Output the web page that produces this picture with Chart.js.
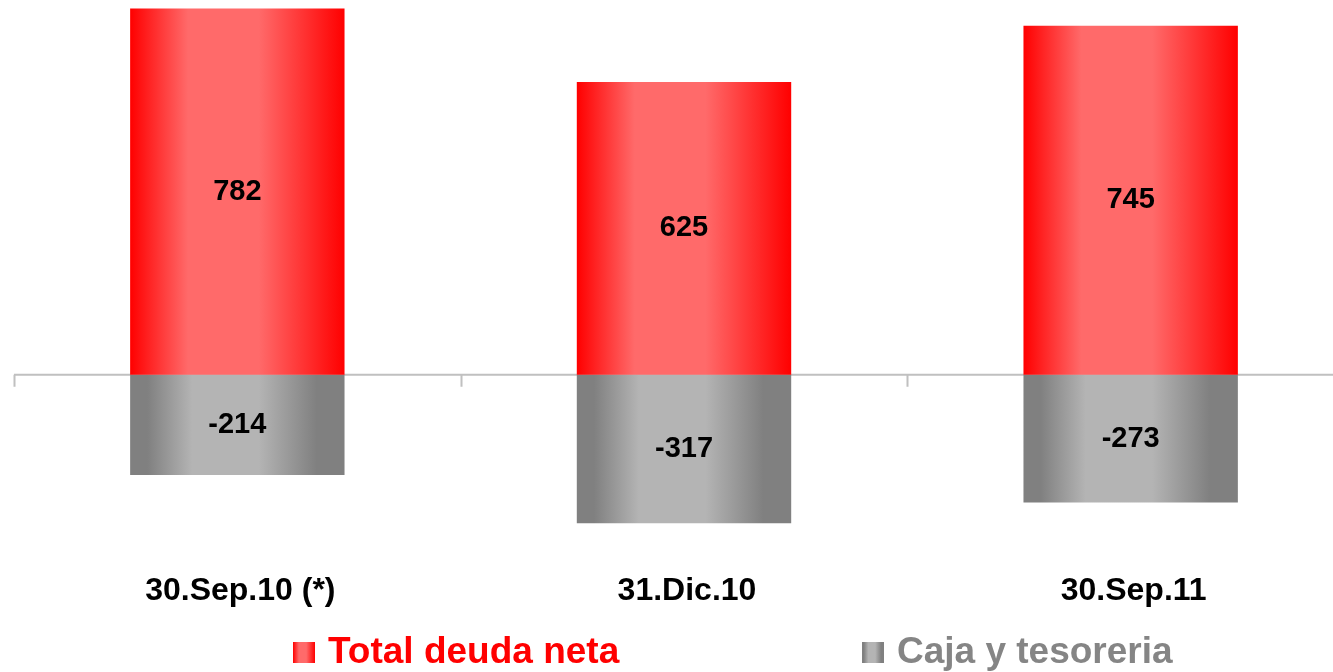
<!DOCTYPE html>
<html>
<head>
<meta charset="utf-8">
<script src="https://cdn.jsdelivr.net/npm/chart.js@4.4.1/dist/chart.umd.min.js"></script>
<style>
    html, body { margin: 0; padding: 0; background: #fff; overflow: hidden; }
    #wrap { width: 1360px; height: 672px; position: relative; }
</style>
</head>
<body>
<div id="wrap"><canvas id="chart"></canvas></div>
<script>
// Data
const categories = ["30.Sep.10 (*)", "31.Dic.10", "30.Sep.11"];
const deudaNeta = [782, 625, 745];
const cajaTesoreria = [-214, -317, -273];
const seriesNames = ["Total deuda neta", "Caja y tesoreria"];

const FONT = "'Liberation Sans', Arial, sans-serif";

// Horizontal gradient across a bar
const barGradient = (ctx, x0, x1, dark, light, stops) => {
    const g = ctx.createLinearGradient(x0, 0, x1, 0);
    stops.forEach(([pos, isLight]) => g.addColorStop(pos, isLight ? light : dark));
    return g;
};

const RED = { dark: "#ff0000", light: "#ff6a6a", stops: [[0, 0], [0.27, 1], [0.6, 1], [1, 0]] };
const GRAY = { dark: "#808080", light: "#b4b4b4", stops: [[0, 0], [0.08, 0], [0.29, 1], [0.6, 1], [0.87, 0], [1, 0]] };

const gradientFor = (c) => (context) => {
    const chart = context.chart;
    if (!chart.chartArea || context.dataIndex === undefined) return c.dark;
    const x = chart.scales.x;
    const w = x.width / categories.length * 0.48;
    const cx = x.getPixelForValue(context.dataIndex);
    return barGradient(chart.ctx, cx - w / 2, cx + w / 2, c.dark, c.light, c.stops);
};

// Zero line with category tick marks
const zeroAxis = {
    id: "zeroAxis",
    beforeDatasetsDraw(chart) {
        const { ctx, scales: { x, y } } = chart;
        const y0 = y.getPixelForValue(0);
        ctx.save();
        ctx.strokeStyle = "#c0c0c0";
        ctx.lineWidth = 2;
        ctx.beginPath();
        ctx.moveTo(x.left, y0);
        ctx.lineTo(x.right, y0);
        const step = x.width / categories.length;
        for (let i = 0; i <= categories.length; i++) {
            const tx = Math.round(x.left + i * step) + 0.5;
            ctx.moveTo(tx, y0);
            ctx.lineTo(tx, y0 + 12);
        }
        ctx.stroke();
        ctx.restore();
    },
};

// Value labels in the middle of each bar
const valueLabels = {
    id: "valueLabels",
    afterDatasetsDraw(chart) {
        const { ctx } = chart;
        ctx.save();
        ctx.font = `bold 29px ${FONT}`;
        ctx.fillStyle = "#000";
        ctx.textAlign = "center";
        ctx.textBaseline = "middle";
        chart.data.datasets.forEach((ds, di) => {
            chart.getDatasetMeta(di).data.forEach((bar, i) => {
                const p = bar.getCenterPoint();
                ctx.fillText(String(ds.data[i]), p.x, p.y);
            });
        });
        ctx.restore();
    },
};

// Legend drawn below the axis labels
const bottomLegend = {
    id: "bottomLegend",
    afterDraw(chart) {
        const { ctx } = chart;
        const items = [
            { x: 293, c: RED, text: "#ff0000" },
            { x: 862, c: GRAY, text: "#858585" },
        ];
        ctx.save();
        ctx.font = `bold 37px ${FONT}`;
        ctx.textBaseline = "middle";
        items.forEach((it, i) => {
            ctx.fillStyle = barGradient(ctx, it.x, it.x + 22, it.c.dark, it.c.light, it.c.stops);
            ctx.fillRect(it.x, 642, 22, 21);
            ctx.fillStyle = it.text;
            ctx.fillText(chart.data.datasets[i].label, it.x + 35, 653);
        });
        ctx.restore();
    },
};

new Chart(document.getElementById("chart"), {
    type: "bar",
    data: {
        labels: categories,
        datasets: [
            {
                label: seriesNames[0],
                data: deudaNeta,
                backgroundColor: gradientFor(RED),
                borderWidth: 0,
            },
            {
                label: seriesNames[1],
                data: cajaTesoreria,
                backgroundColor: gradientFor(GRAY),
                borderWidth: 0,
            },
        ],
    },
    options: {
        responsive: true,
        maintainAspectRatio: false,
        animation: false,
        layout: { padding: { left: 14, right: 6, top: 0, bottom: 52.6 } },
        datasets: { bar: { barPercentage: 0.48, categoryPercentage: 1 } },
        plugins: {
            legend: { display: false },
            tooltip: { enabled: false },
        },
        scales: {
            x: {
                stacked: true,
                border: { display: false },
                grid: { display: false, drawTicks: false },
                ticks: {
                    padding: 9.5,
                    labelOffset: 3,
                    color: "#000",
                    font: { family: FONT, size: 32, weight: "bold" },
                },
            },
            y: {
                stacked: true,
                display: false,
                min: -400,
                max: 800,
            },
        },
    },
    plugins: [zeroAxis, valueLabels, bottomLegend],
});
</script>
</body>
</html>
